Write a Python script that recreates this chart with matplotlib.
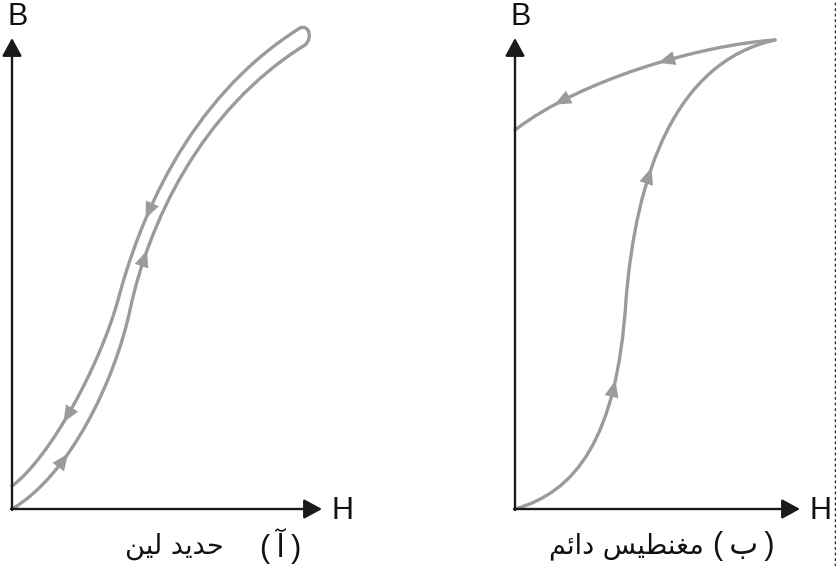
import numpy as np
import matplotlib
matplotlib.use("Agg")
import matplotlib.pyplot as plt
from matplotlib.path import Path
from matplotlib.patches import PathPatch

# control points (H, B) in picture units
soft_upper = [(12, 486), (50, 458), (100, 365), (118, 300),
              (138, 225), (185, 100), (300, 28)]
soft_cap = [(300, 28), (309, 24), (313, 38), (305, 45)]
soft_lower = [(12, 509), (70, 475), (115, 380), (130, 310),
              (148, 225), (200, 110), (305, 45)]
hard_initial = [(515, 509), (575, 492), (617, 440), (626, 300),
                (636, 175), (675, 62), (775, 40)]
hard_return = [(775, 40), (700, 45), (580, 80), (515, 130)]

# arrows: (curve, segment, t, direction)
soft_arrows = [(soft_upper, 0, 0.45, -1), (soft_upper, 1, 0.33, -1),
               (soft_lower, 0, 0.33, 1), (soft_lower, 1, 0.2, 1)]
hard_arrows = [(hard_initial, 0, 0.76, 1), (hard_initial, 1, 0.36, 1),
               (hard_return, 0, 0.42, 1), (hard_return, 0, 0.8, 1)]

label_soft = "حدید لین"
label_hard = "مغنطیس دائم"
tag_soft = "آ"
tag_hard = "ب"

gray = "#9b9b9b"

# simple arabic shaping (isolated, final, initial, medial)
forms = {
    "ح": "\uFEA1\uFEA2\uFEA3\uFEA4", "د": "\uFEA9\uFEAA",
    "ی": "\uFEEF\uFEF0\uFEF3\uFEF4", "ل": "\uFEDD\uFEDE\uFEDF\uFEE0",
    "ن": "\uFEE5\uFEE6\uFEE7\uFEE8", "م": "\uFEE1\uFEE2\uFEE3\uFEE4",
    "غ": "\uFECD\uFECE\uFECF\uFED0", "ط": "\uFEC1\uFEC2\uFEC3\uFEC4",
    "س": "\uFEB1\uFEB2\uFEB3\uFEB4", "ا": "\uFE8D\uFE8E",
    "ئ": "\uFE89\uFE8A\uFE8B\uFE8C", "ب": "\uFE8F\uFE90\uFE91\uFE92",
    "آ": "\uFE81\uFE82",
}


def shape(word):
    out = []
    for i, c in enumerate(word):
        f = forms.get(c)
        if f is None:
            out.append(c)
            continue
        prev = word[i - 1] if i > 0 else ""
        nxt = word[i + 1] if i + 1 < len(word) else ""
        jp = prev in forms and len(forms[prev]) == 4
        jn = nxt in forms and len(f) == 4
        idx = (1 if jp else 0) + (2 if jn else 0)
        out.append(f[idx])
    return "".join(out)[::-1]


def visual(text):
    return " ".join(shape(w) for w in text.split()[::-1])


def bez(pts, seg, t):
    p = np.array(pts[seg * 3:seg * 3 + 4], float)
    pt = ((1 - t) ** 3 * p[0] + 3 * (1 - t) ** 2 * t * p[1]
          + 3 * (1 - t) * t ** 2 * p[2] + t ** 3 * p[3])
    d = (3 * (1 - t) ** 2 * (p[1] - p[0]) + 6 * (1 - t) * t * (p[2] - p[1])
         + 3 * t ** 2 * (p[3] - p[2]))
    return pt, d / np.hypot(*d)


def curve(ax, pts):
    codes = [Path.MOVETO] + [Path.CURVE4] * (len(pts) - 1)
    ax.add_patch(PathPatch(Path(pts, codes), fc="none", ec=gray, lw=2.4,
                           capstyle="round", joinstyle="round"))


fig = plt.figure(figsize=(8.37, 5.66), dpi=100)
ax = fig.add_axes([0, 0, 1, 1])
ax.set_xlim(0, 837)
ax.set_ylim(566, 0)
ax.axis("off")

for pts in [soft_upper, soft_cap, soft_lower, hard_initial, hard_return]:
    curve(ax, pts)

for pts, seg, t, sgn in soft_arrows + hard_arrows:
    p, d = bez(pts, seg, t)
    d = d * sgn
    ax.annotate("", xy=p + d * 6, xytext=p - d * 2,
                arrowprops=dict(arrowstyle="-|>,head_length=0.75,head_width=0.32",
                                mutation_scale=16, color=gray, lw=0,
                                shrinkA=0, shrinkB=0))

axis_kw = dict(arrowstyle="-|>,head_length=0.55,head_width=0.3",
               mutation_scale=20, color="#1a1a1a", lw=1.7, shrinkA=0, shrinkB=0)
for x0, x1 in [(12, 322), (515, 800)]:
    ax.annotate("", xy=(x0, 38), xytext=(x0, 510), arrowprops=axis_kw)
    ax.annotate("", xy=(x1, 509), xytext=(x0 - 1, 509), arrowprops=axis_kw)
    ax.text(x0 + 6, 17, "B", fontsize=22, family="Liberation Sans",
            ha="center", va="center", color="#111")
    ax.text(x1 + 21, 511, "H", fontsize=22, family="Liberation Sans",
            ha="center", va="center", color="#111")

txt = dict(fontsize=19.5, family="DejaVu Sans",
           ha="center", va="center", color="#111")
par = dict(fontsize=22, family=["Liberation Sans", "DejaVu Sans"],
           ha="center", va="center", color="#111")
ax.text(174, 546, visual(label_soft), **txt)
ax.text(281, 546, "(\u2009" + shape(tag_soft) + "\u2009)", **par)
ax.text(626, 546, visual(label_hard), **txt)
ax.text(744, 546, "(\u2009" + shape(tag_hard) + "\u2009)", **par)

ax.axvline(835, color="#222", lw=1, ls=(0, (2, 2)))

fig.savefig("out.png", dpi=100)
